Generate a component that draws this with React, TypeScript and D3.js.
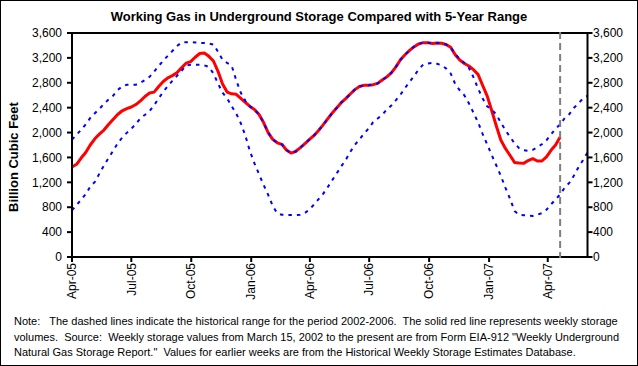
import React from "react";
import * as d3 from "d3";

// ---- data ----
const seriesStart = new Date(2005, 3, 1); // first weekly point, Fridays
const axisStart = new Date(2005, 3, 1);
const axisEnd = new Date(2007, 5, 1);
const currentWeek = new Date(2007, 3, 20);

const storage = [
  1446, 1490, 1590, 1680, 1800, 1900, 1975, 2040, 2130, 2210,
  2290, 2350, 2385, 2410, 2450, 2510, 2580, 2636, 2650, 2740,
  2820, 2880, 2915, 2960, 3040, 3115, 3140, 3210, 3270, 3278,
  3225, 3150, 2985, 2780, 2650, 2622, 2615, 2550, 2485, 2420,
  2370, 2290, 2160, 2000, 1890, 1835, 1811, 1720, 1670, 1695,
  1755, 1820, 1885, 1950, 2030, 2120, 2215, 2310, 2395, 2480,
  2545, 2620, 2690, 2740, 2759, 2760, 2770, 2790, 2845, 2895,
  2960, 3055, 3170, 3250, 3320, 3380, 3425, 3445, 3445, 3430,
  3440, 3435, 3415, 3370, 3250, 3165, 3110, 3070, 3010, 2935,
  2760, 2590, 2355, 2110, 1880, 1745, 1635, 1520, 1511, 1505,
  1550, 1580, 1543, 1543, 1610, 1715, 1800, 1930,
];

const rangeMax = [
  1886, 1965, 2045, 2130, 2235, 2310, 2380, 2460, 2530, 2590,
  2685, 2740, 2768, 2770, 2770, 2800, 2845, 2895, 2980, 3070,
  3155, 3235, 3310, 3390, 3445, 3452, 3455, 3448, 3440, 3439,
  3430, 3415, 3300, 3170, 3120, 3075, 2840, 2640, 2510, 2420,
  2370, 2290, 2160, 2000, 1890, 1835, 1811, 1720, 1670, 1695,
  1755, 1820, 1885, 1950, 2030, 2120, 2215, 2310, 2395, 2480,
  2545, 2620, 2690, 2740, 2759, 2760, 2770, 2790, 2845, 2895,
  2960, 3055, 3170, 3250, 3320, 3380, 3425, 3445, 3445, 3430,
  3440, 3435, 3415, 3370, 3260, 3180, 3120, 3040, 2890, 2710,
  2550, 2420, 2370, 2290, 2160, 2040, 1930, 1830, 1750, 1715,
  1705, 1722, 1765, 1811, 1875, 1970, 2060, 2132, 2230, 2295,
  2395, 2470, 2545, 2590,
];

const rangeMin = [
  750, 835, 920, 1010, 1130, 1205, 1340, 1470, 1590, 1705,
  1825, 1920, 1995, 2060, 2140, 2230, 2285, 2345, 2440, 2550,
  2655, 2745, 2830, 2910, 2990, 3080, 3088, 3091, 3091, 3080,
  3055, 2950, 2790, 2640, 2550, 2425, 2305, 2150, 1950, 1700,
  1505, 1330, 1160, 1000, 820, 700, 680, 675, 675, 675,
  680, 705, 760, 840, 925, 1010, 1115, 1230, 1340, 1455,
  1560, 1690, 1800, 1890, 1980, 2065, 2165, 2225, 2285, 2370,
  2435, 2520, 2610, 2715, 2815, 2910, 3015, 3095, 3110, 3122,
  3105, 3083, 3030, 2950, 2780, 2680, 2600, 2470, 2320, 2165,
  1980, 1810, 1640, 1475, 1305, 1115, 940, 740, 678, 672,
  665, 660, 680, 705, 760, 845, 925, 1005, 1115, 1190,
  1305, 1440, 1555, 1680,
];

const yTicks = [0, 400, 800, 1200, 1600, 2000, 2400, 2800, 3200, 3600];

const titleText = "Working Gas in Underground Storage Compared with 5-Year Range";
const yAxisTitle = "Billion Cubic Feet";
const noteLines = [
  "Note:   The dashed lines indicate the historical range for the period 2002-2006.  The solid red line represents weekly storage",
  "volumes.  Source:  Weekly storage values from March 15, 2002 to the present are from Form EIA-912 \"Weekly Underground",
  "Natural Gas Storage Report.\"  Values for earlier weeks are from the Historical Weekly Storage Estimates Database.",
];

// ---- layout ----
const W = 638;
const H = 366;
const left = 72;
const right = 587.5;
const top = 33;
const bottom = 257;
const FONT = "'Liberation Sans', Arial, sans-serif";

export default function App() {
  const x = d3.scaleTime().domain([axisStart, axisEnd]).range([left, right]);
  const y = d3.scaleLinear().domain([0, 3600]).range([bottom, top]);
  const weekDate = (i: number) => d3.timeDay.offset(seriesStart, 7 * i);
  const line = d3
    .line<number>()
    .x((_, i) => x(weekDate(i)))
    .y((d) => y(d));
  const xTicks = d3.timeMonth.every(3)!.range(axisStart, d3.timeDay.offset(axisEnd, -1));
  const fmtX = d3.timeFormat("%b-%y");
  const fmtY = d3.format(",");

  return (
    <div style={{ position: "absolute", left: 0, top: 0 }}>
      <svg width={W} height={H} style={{ display: "block", background: "#fff" }} fontFamily={FONT}>
        <rect x={0.5} y={0.5} width={W - 1} height={H - 1} fill="#fff" stroke="#000" strokeWidth={1} />
        <text x={319} y={21} textAnchor="middle" fontSize={13} fontWeight="bold">
          {titleText}
        </text>

        {/* data lines */}
        <path d={line(storage) || ""} fill="none" stroke="#ff0000" strokeWidth={3} strokeLinejoin="round" />
        <path d={line(rangeMax) || ""} fill="none" stroke="#0000ff" strokeWidth={2} strokeDasharray="3.5,5" />
        <path d={line(rangeMin) || ""} fill="none" stroke="#0000ff" strokeWidth={2} strokeDasharray="3.5,5" />

        {/* plot frame */}
        <rect x={left} y={top} width={right - left} height={bottom - top} fill="none" stroke="#000" strokeWidth={2} />

        {/* y ticks left & right */}
        {yTicks.map((t) => (
          <g key={t}>
            <line x1={left - 5} x2={left} y1={y(t)} y2={y(t)} stroke="#000" strokeWidth={2} />
            <text x={62} y={y(t)} dy="0.35em" textAnchor="end" fontSize={12}>
              {fmtY(t)}
            </text>
            <line x1={right} x2={right + 5} y1={y(t)} y2={y(t)} stroke="#000" strokeWidth={2} />
            <text x={593} y={y(t)} dy="0.35em" textAnchor="start" fontSize={12}>
              {fmtY(t)}
            </text>
          </g>
        ))}

        {/* x ticks */}
        {xTicks.map((d) => (
          <g key={+d}>
            <line x1={x(d)} x2={x(d)} y1={bottom} y2={bottom + 5} stroke="#000" strokeWidth={2} />
            <text
              transform={`translate(${x(d)},${bottom + 6}) rotate(-90)`}
              dy="0.35em"
              textAnchor="end"
              fontSize={12}
            >
              {fmtX(d)}
            </text>
          </g>
        ))}

        {/* current week marker */}
        <line
          x1={x(currentWeek)}
          x2={x(currentWeek)}
          y1={top - 1}
          y2={bottom + 1}
          stroke="#808080"
          strokeWidth={2}
          strokeDasharray="7,4"
        />

        <text
          transform={`translate(18,${(top + bottom) / 2 + 12}) rotate(-90)`}
          textAnchor="middle"
          fontSize={13}
          fontWeight="bold"
        >
          {yAxisTitle}
        </text>

        {noteLines.map((l, i) => (
          <text key={i} x={14} y={325 + i * 15.5} fontSize={11} style={{ whiteSpace: "pre" }}>
            {l}
          </text>
        ))}
      </svg>
    </div>
  );
}
